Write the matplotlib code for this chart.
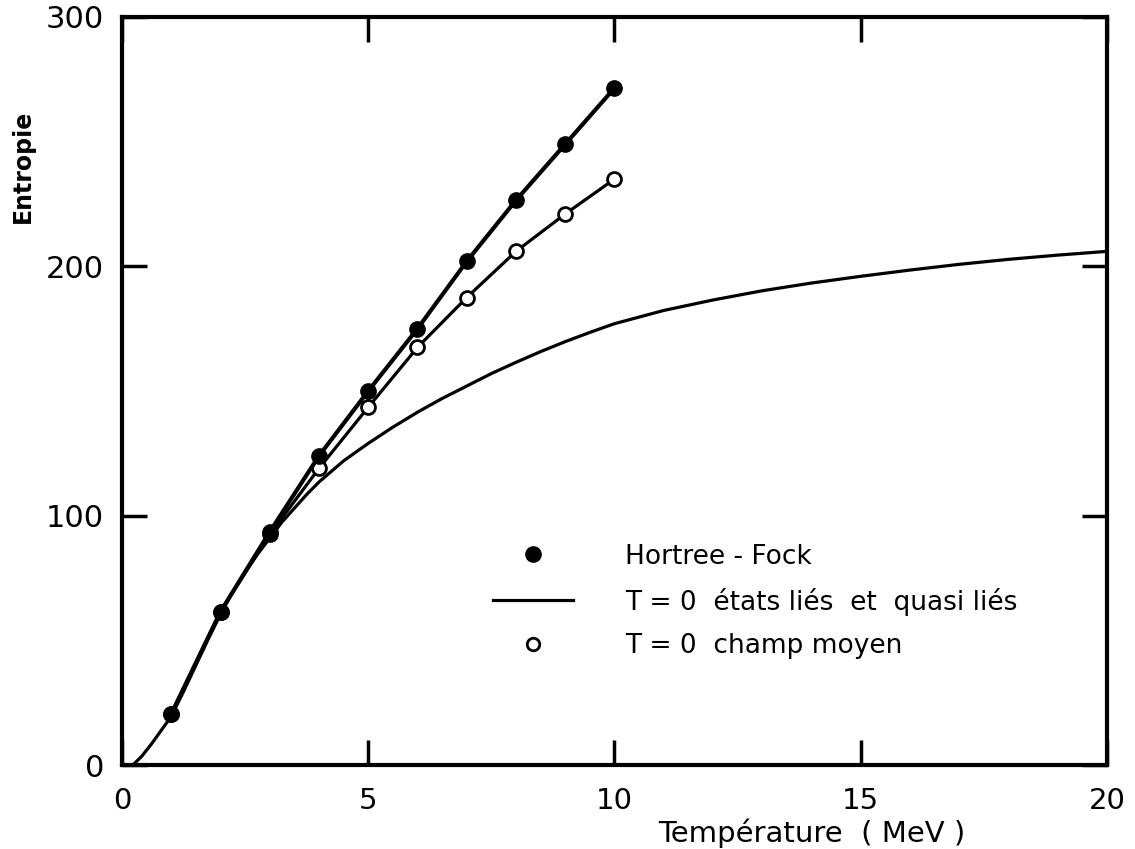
import matplotlib
matplotlib.use("Agg")
import matplotlib.pyplot as plt
from matplotlib.lines import Line2D
import numpy as np

# Hartree-Fock (filled circles)
hf_T = [1, 2, 3, 4, 5, 6, 7, 8, 9, 10]
hf_S = [20.5, 61.5, 93.5, 124, 150, 175, 202, 226.5, 249, 271.5]

# T = 0 champ moyen (open circles)
cm_T = [1, 2, 3, 4, 5, 6, 7, 8, 9, 10]
cm_S = [20.5, 61.5, 92.5, 119, 143.5, 167.5, 187.5, 206, 221, 235]

# T = 0 etats lies et quasi lies (solid curve)
curve_T = [0.22, 0.4, 0.6, 0.8, 1, 1.25, 1.5, 1.75, 2, 2.25, 2.5, 2.75, 3, 3.25, 3.5,
           3.75, 4, 4.5, 5, 5.5, 6, 6.5, 7, 7.5, 8, 8.5, 9, 9.5, 10,
           11, 12, 13, 14, 15, 16, 17, 18, 19, 20]
curve_S = [0, 3.5, 8.5, 14, 19.5, 29.5, 40, 50.5, 60.5, 69.5, 77.5, 84.5, 91, 97.5, 103,
           108.5, 113.5, 122, 129, 135.5, 141.5, 147, 152, 157, 161.5, 165.8, 169.8, 173.5, 177,
           182.3, 186.5, 190.2, 193.3, 196, 198.5, 200.8, 202.8, 204.5, 206]

fig = plt.figure(figsize=(11.35, 8.49), dpi=100)
ax = fig.add_axes([0.1075, 0.0989, 0.8678, 0.8811])

ax.plot(curve_T, curve_S, color="black", lw=2.3, zorder=2)
ax.plot(cm_T, cm_S, color="black", lw=2.3, marker="o", markersize=10,
        markerfacecolor="white", markeredgecolor="black", markeredgewidth=2.0, zorder=3)
ax.plot(hf_T, hf_S, color="black", lw=3.0, marker="o", markersize=11,
        markerfacecolor="black", markeredgecolor="black", zorder=4)

ax.set_xlim(0, 20)
ax.set_ylim(0, 300)
ax.set_xticks([0, 5, 10, 15, 20])
ax.set_yticks([0, 100, 200, 300])
ax.set_xticklabels(["0", "5", "10", "15", "20"])
ax.set_yticklabels(["0", "100", "200", "300"])

for s in ax.spines.values():
    s.set_linewidth(3.0)

ax.tick_params(axis="both", direction="in", length=18, width=2.5,
               top=True, right=True)
ax.tick_params(axis="x", labelsize=21, pad=16)
ax.tick_params(axis="y", labelsize=22, pad=13)

ax.set_ylabel("Entropie", fontsize=17, fontweight="bold", labelpad=0)
ax.yaxis.set_label_coords(-0.088, 0.80)
fig.text(0.70 * 0.8678 + 0.1075, 0.019, "Température  ( MeV )",
         fontsize=21, ha="center", va="center")

handles = [
    Line2D([], [], color="black", marker="o", linestyle="none", markersize=11),
    Line2D([], [], color="black", lw=2.3),
    Line2D([], [], color="black", marker="o", linestyle="none", markersize=9,
           markerfacecolor="white", markeredgewidth=2.0),
]
labels = ["Hortree - Fock", "T = 0  états liés  et  quasi liés", "T = 0  champ moyen"]
ax.legend(handles, labels, loc="upper left", bbox_to_anchor=(0.377, 0.296),
          frameon=False, fontsize=19, handlelength=3.0, handletextpad=2.0,
          labelspacing=0.68, borderpad=0, borderaxespad=0)

fig.savefig("out.png", dpi=100)
